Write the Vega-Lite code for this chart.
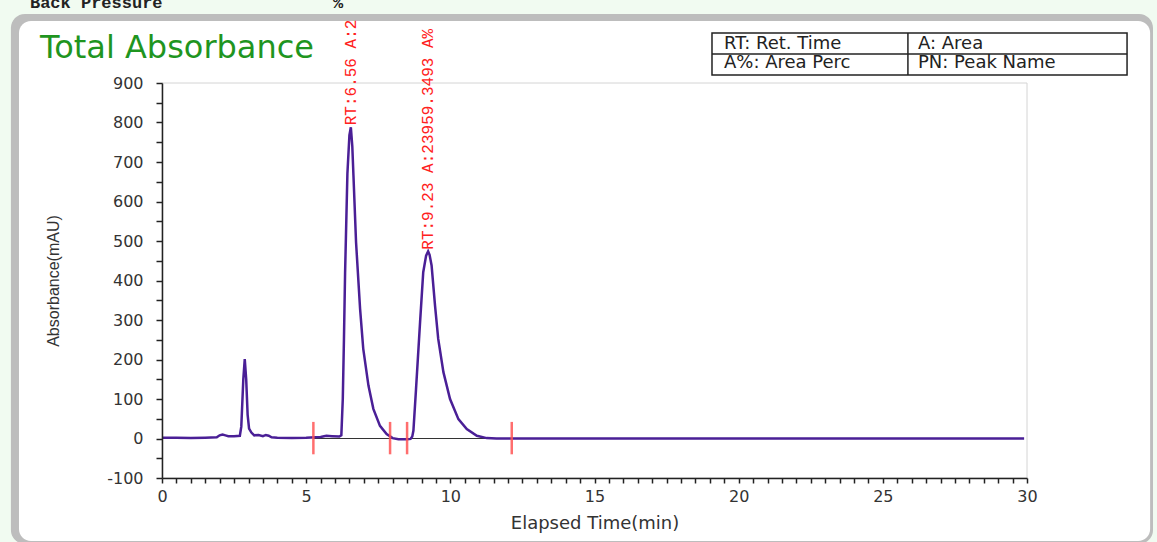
{
  "$schema": "https://vega.github.io/schema/vega-lite/v6.json",
  "width": 865,
  "height": 395,
  "autosize": "none",
  "padding": {"left": 162, "top": 83, "right": 130, "bottom": 64},
  "background": "#f1fbf1",
  "config": {
    "view": {"stroke": null},
    "axis": {"grid": false, "labelFlush": false}
  },
  "datasets": {
    "trace": [
      {"t": 0.0, "v": 2}, {"t": 0.5, "v": 2}, {"t": 1.0, "v": 1}, {"t": 1.5, "v": 2},
      {"t": 1.9, "v": 3}, {"t": 2.0, "v": 8}, {"t": 2.1, "v": 10}, {"t": 2.2, "v": 8},
      {"t": 2.3, "v": 6}, {"t": 2.5, "v": 6}, {"t": 2.7, "v": 7}, {"t": 2.75, "v": 30},
      {"t": 2.82, "v": 150}, {"t": 2.87, "v": 201}, {"t": 2.92, "v": 150}, {"t": 2.97, "v": 60},
      {"t": 3.02, "v": 25}, {"t": 3.1, "v": 15}, {"t": 3.2, "v": 8}, {"t": 3.35, "v": 9},
      {"t": 3.5, "v": 6}, {"t": 3.6, "v": 9}, {"t": 3.7, "v": 7}, {"t": 3.8, "v": 3},
      {"t": 4.0, "v": 2}, {"t": 4.5, "v": 1}, {"t": 5.0, "v": 2}, {"t": 5.5, "v": 4},
      {"t": 5.7, "v": 7}, {"t": 5.9, "v": 6}, {"t": 6.15, "v": 5}, {"t": 6.22, "v": 8},
      {"t": 6.27, "v": 100}, {"t": 6.31, "v": 250}, {"t": 6.35, "v": 420}, {"t": 6.43, "v": 670},
      {"t": 6.5, "v": 768}, {"t": 6.55, "v": 788}, {"t": 6.6, "v": 740}, {"t": 6.64, "v": 666},
      {"t": 6.73, "v": 497}, {"t": 6.87, "v": 328}, {"t": 6.98, "v": 227}, {"t": 7.16, "v": 134},
      {"t": 7.33, "v": 75}, {"t": 7.56, "v": 32}, {"t": 7.79, "v": 11}, {"t": 8.0, "v": 1},
      {"t": 8.2, "v": -2}, {"t": 8.5, "v": -2}, {"t": 8.62, "v": -1}, {"t": 8.68, "v": 5},
      {"t": 8.72, "v": 20}, {"t": 8.81, "v": 125}, {"t": 8.95, "v": 294}, {"t": 9.06, "v": 421},
      {"t": 9.16, "v": 463}, {"t": 9.23, "v": 474}, {"t": 9.28, "v": 465}, {"t": 9.35, "v": 438},
      {"t": 9.47, "v": 336}, {"t": 9.58, "v": 252}, {"t": 9.76, "v": 168}, {"t": 9.99, "v": 100},
      {"t": 10.28, "v": 49}, {"t": 10.57, "v": 24}, {"t": 10.92, "v": 7}, {"t": 11.26, "v": 1},
      {"t": 11.6, "v": 0}, {"t": 12.0, "v": 0}, {"t": 15.0, "v": 0}, {"t": 20.0, "v": 0},
      {"t": 25.0, "v": 0}, {"t": 29.9, "v": 0}
    ],
    "markers": [{"t": 5.25}, {"t": 7.91}, {"t": 8.5}, {"t": 12.13}],
    "baseline": [{"start": 5.25, "end": 12.13, "v": 0}],
    "peaks": [
      {"t": 6.56, "v": 793, "label": "RT:6.56 A:2"},
      {"t": 9.23, "v": 478, "label": "RT:9.23 A:23959.3493 A%"}
    ]
  },
  "layer": [
    {
      "data": {"values": [{}]},
      "mark": {"type": "rect", "clip": false, "fill": "#bdbdbd", "cornerRadius": 14},
      "encoding": {
        "x": {
          "datum": -5.24, "type": "quantitative",
          "scale": {"domain": [0, 30], "nice": false, "zero": false},
          "axis": {
            "tickCount": 60,
            "labelExpr": "datum.value % 5 === 0 ? format(datum.value, 'd') : ''",
            "labelOverlap": false,
            "orient": "bottom",
            "zindex": 3,
            "tickSize": 5, "tickWidth": 1.5, "tickColor": "#222",
            "domainColor": "#222", "domainWidth": 1.5,
            "labelFont": "DejaVu Sans", "labelFontSize": 16, "labelColor": "#333", "labelPadding": 5,
            "title": "Elapsed Time(min)", "titleFont": "DejaVu Sans", "titleFontSize": 18,
            "titleFontWeight": "normal", "titleColor": "#333", "titlePadding": 10,
            "encode": {
              "ticks": {
                "update": {
                  "y": {"signal": "datum.value % 5 === 0 ? -7 : 1"},
                  "y2": {"signal": "datum.value % 5 === 0 ? 5 : 3"},
                  "strokeWidth": {"signal": "datum.value % 5 === 0 ? 1.5 : 2"},
                  "stroke": {"signal": "datum.value % 5 === 0 ? '#222' : '#555'"}
                }
              }
            }
          }
        },
        "x2": {"datum": 34.37},
        "y": {
          "datum": 1074.7, "type": "quantitative",
          "scale": {"domain": [-100, 900], "nice": false, "zero": false},
          "axis": {
            "tickCount": 20,
            "labelExpr": "datum.value % 100 === 0 ? (datum.value < 0 ? '-' + abs(datum.value) : format(datum.value, 'd')) : ''",
            "labelOverlap": false,
            "orient": "left",
            "zindex": 3,
            "tickSize": 6, "tickWidth": 1.5, "tickColor": "#222",
            "domainColor": "#222", "domainWidth": 1.5,
            "labelFont": "DejaVu Sans", "labelFontSize": 16, "labelColor": "#333", "labelPadding": 13,
            "title": "Absorbance(mAU)", "titleFont": "Liberation Sans", "titleFontSize": 16,
            "titleFontWeight": "normal", "titleColor": "#333", "titlePadding": 45,
            "encode": {"ticks": {"update": {"x": {"value": 4}, "strokeOpacity": {"signal": "datum.value % 100 === 0 ? 1 : 0"}}}}
          }
        },
        "y2": {"datum": -267}
      }
    },
    {
      "data": {"values": [{}]},
      "mark": {"type": "rect", "clip": false, "fill": "#ffffff", "cornerRadius": 12},
      "encoding": {
        "x": {"datum": -4.96, "type": "quantitative"},
        "x2": {"datum": 34.27},
        "y": {"datum": 1057, "type": "quantitative"},
        "y2": {"datum": -259.5}
      }
    },
    {
      "data": {"values": [{}]},
      "mark": {"type": "rect", "clip": false, "fill": null, "stroke": "#d4d4d4", "strokeWidth": 1},
      "encoding": {
        "x": {"datum": 0, "type": "quantitative"},
        "x2": {"datum": 30},
        "y": {"datum": 900, "type": "quantitative"},
        "y2": {"datum": -100}
      }
    },
    {
      "data": {"values": [{}]},
      "mark": {"type": "text", "clip": false, "text": "Total Absorbance", "align": "left", "baseline": "alphabetic", "font": "DejaVu Sans", "fontSize": 32, "color": "#1f951f"},
      "encoding": {
        "x": {"datum": -4.23, "type": "quantitative"},
        "y": {"datum": 963, "type": "quantitative"}
      }
    },
    {
      "data": {"values": [{}]},
      "mark": {"type": "text", "clip": false, "text": "Back Pressure", "align": "left", "baseline": "alphabetic", "font": "Liberation Mono", "fontSize": 17, "fontWeight": "bold", "color": "#222"},
      "encoding": {
        "x": {"datum": -4.58, "type": "quantitative"},
        "y": {"datum": 1089, "type": "quantitative"}
      }
    },
    {
      "data": {"values": [{}]},
      "mark": {"type": "text", "clip": false, "text": "%", "align": "left", "baseline": "alphabetic", "font": "Liberation Mono", "fontSize": 17, "fontWeight": "bold", "color": "#222"},
      "encoding": {
        "x": {"datum": 5.93, "type": "quantitative"},
        "y": {"datum": 1089, "type": "quantitative"}
      }
    },
    {
      "data": {"values": [{}]},
      "mark": {"type": "rect", "clip": false, "fill": "#ffffff", "stroke": "#222", "strokeWidth": 1.5},
      "encoding": {
        "x": {"datum": 19.075, "type": "quantitative"},
        "x2": {"datum": 33.47},
        "y": {"datum": 1026.6, "type": "quantitative"},
        "y2": {"datum": 920.3}
      }
    },
    {
      "data": {"values": [{}]},
      "mark": {"type": "rule", "clip": false, "color": "#222", "strokeWidth": 1.5},
      "encoding": {
        "x": {"datum": 25.87, "type": "quantitative"},
        "y": {"datum": 1026.6, "type": "quantitative"},
        "y2": {"datum": 920.3}
      }
    },
    {
      "data": {"values": [{}]},
      "mark": {"type": "rule", "clip": false, "color": "#222", "strokeWidth": 1.5},
      "encoding": {
        "x": {"datum": 19.075, "type": "quantitative"},
        "x2": {"datum": 33.47},
        "y": {"datum": 973.4, "type": "quantitative"}
      }
    },
    {
      "data": {"values": [{}]},
      "mark": {"type": "text", "clip": false, "text": "RT: Ret. Time", "align": "left", "baseline": "middle", "font": "DejaVu Sans", "fontSize": 18, "color": "#222"},
      "encoding": {
        "x": {"datum": 19.49, "type": "quantitative"},
        "y": {"datum": 1000, "type": "quantitative"}
      }
    },
    {
      "data": {"values": [{}]},
      "mark": {"type": "text", "clip": false, "text": "A: Area", "align": "left", "baseline": "middle", "font": "DejaVu Sans", "fontSize": 18, "color": "#222"},
      "encoding": {
        "x": {"datum": 26.22, "type": "quantitative"},
        "y": {"datum": 1000, "type": "quantitative"}
      }
    },
    {
      "data": {"values": [{}]},
      "mark": {"type": "text", "clip": false, "text": "A%: Area Perc", "align": "left", "baseline": "middle", "font": "DejaVu Sans", "fontSize": 18, "color": "#222"},
      "encoding": {
        "x": {"datum": 19.49, "type": "quantitative"},
        "y": {"datum": 949.4, "type": "quantitative"}
      }
    },
    {
      "data": {"values": [{}]},
      "mark": {"type": "text", "clip": false, "text": "PN: Peak Name", "align": "left", "baseline": "middle", "font": "DejaVu Sans", "fontSize": 18, "color": "#222"},
      "encoding": {
        "x": {"datum": 26.22, "type": "quantitative"},
        "y": {"datum": 949.4, "type": "quantitative"}
      }
    },
    {
      "data": {"name": "baseline"},
      "mark": {"type": "rule", "color": "#333", "strokeWidth": 1},
      "encoding": {
        "x": {"field": "start", "type": "quantitative"},
        "x2": {"field": "end"},
        "y": {"field": "v", "type": "quantitative"}
      }
    },
    {
      "data": {"name": "trace"},
      "mark": {"type": "line", "color": "#4a1f96", "strokeWidth": 2.5, "interpolate": "linear"},
      "encoding": {
        "x": {
          "field": "t", "type": "quantitative",
          "axis": {
            "tickCount": 60,
            "labelExpr": "datum.value % 5 === 0 ? format(datum.value, 'd') : ''",
            "labelOverlap": false,
            "orient": "bottom",
            "zindex": 3,
            "tickSize": 5, "tickWidth": 1.5, "tickColor": "#222",
            "domainColor": "#222", "domainWidth": 1.5,
            "labelFont": "DejaVu Sans", "labelFontSize": 16, "labelColor": "#333", "labelPadding": 5,
            "title": "Elapsed Time(min)", "titleFont": "DejaVu Sans", "titleFontSize": 18,
            "titleFontWeight": "normal", "titleColor": "#333", "titlePadding": 10,
            "encode": {
              "ticks": {
                "update": {
                  "y": {"signal": "datum.value % 5 === 0 ? -7 : 1"},
                  "y2": {"signal": "datum.value % 5 === 0 ? 5 : 3"},
                  "strokeWidth": {"signal": "datum.value % 5 === 0 ? 1.5 : 2"},
                  "stroke": {"signal": "datum.value % 5 === 0 ? '#222' : '#555'"}
                }
              }
            }
          }
        },
        "y": {
          "field": "v", "type": "quantitative",
          "axis": {
            "tickCount": 20,
            "labelExpr": "datum.value % 100 === 0 ? (datum.value < 0 ? '-' + abs(datum.value) : format(datum.value, 'd')) : ''",
            "labelOverlap": false,
            "orient": "left",
            "zindex": 3,
            "tickSize": 6, "tickWidth": 1.5, "tickColor": "#222",
            "domainColor": "#222", "domainWidth": 1.5,
            "labelFont": "DejaVu Sans", "labelFontSize": 16, "labelColor": "#333", "labelPadding": 13,
            "title": "Absorbance(mAU)", "titleFont": "Liberation Sans", "titleFontSize": 16,
            "titleFontWeight": "normal", "titleColor": "#333", "titlePadding": 45,
            "encode": {"ticks": {"update": {"x": {"value": 4}, "strokeOpacity": {"signal": "datum.value % 100 === 0 ? 1 : 0"}}}}
          }
        }
      }
    },
    {
      "data": {"name": "markers"},
      "mark": {"type": "rule", "color": "#ff5555", "strokeWidth": 2.5, "opacity": 0.85},
      "encoding": {
        "x": {"field": "t", "type": "quantitative"},
        "y": {"datum": 42, "type": "quantitative"},
        "y2": {"datum": -40}
      }
    },
    {
      "data": {"name": "peaks"},
      "mark": {"type": "text", "clip": false, "angle": 270, "align": "left", "baseline": "middle", "font": "Liberation Mono", "fontSize": 16, "color": "#ff2020"},
      "encoding": {
        "x": {"field": "t", "type": "quantitative"},
        "y": {"field": "v", "type": "quantitative"},
        "text": {"field": "label"}
      }
    }
  ]
}
